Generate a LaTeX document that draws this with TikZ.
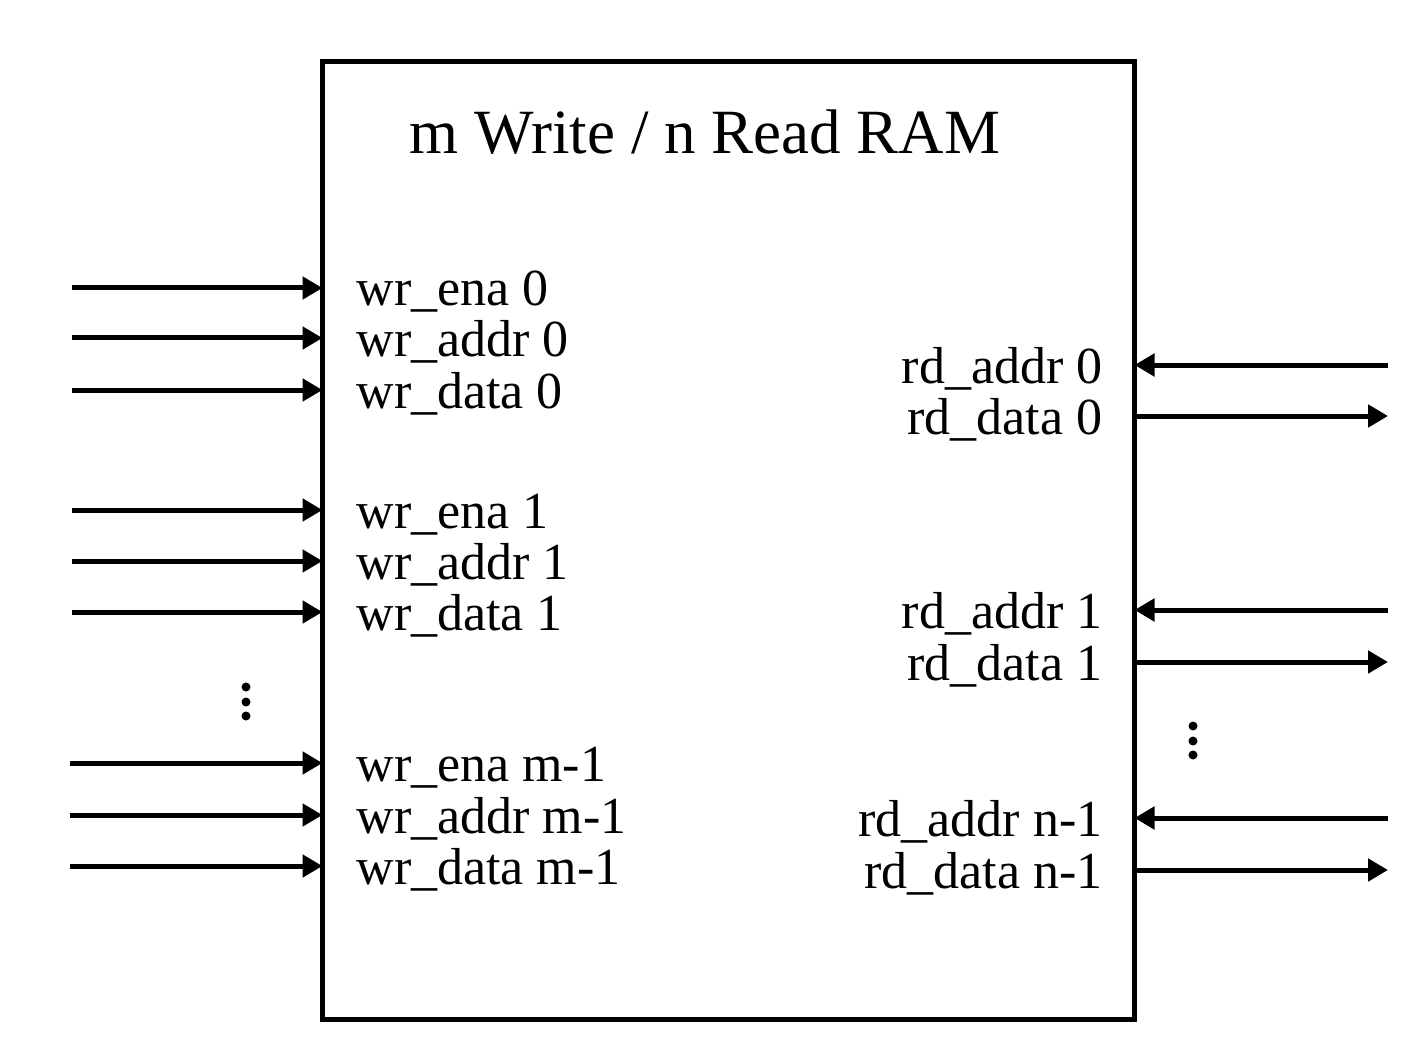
\documentclass[tikz,border=0pt]{standalone}
\usepackage{fontspec}
\setmainfont{Liberation Serif}
\usetikzlibrary{arrows.meta}
\begin{document}
\begin{tikzpicture}[x=1pt,y=-1pt,text=black,line width=5pt,
  >={Triangle[length=20pt,width=22pt]},
  wrlabel/.style={anchor=base west,inner sep=0pt,font=\fontsize{52}{56}\selectfont},
  rdlabel/.style={anchor=base east,inner sep=0pt,font=\fontsize{52}{56}\selectfont}]
\useasboundingbox (0,0) rectangle (1418,1064);

\node[draw,anchor=north west,minimum width=812pt,minimum height=958pt,inner sep=0pt,outer sep=0pt] (ram) at (322.5,61.5) {};
\node[anchor=base,inner sep=0pt,font=\fontsize{63}{66}\selectfont] (title) at (705,154) {m Write / n Read RAM};

% write ports
\foreach \y/\x/\txt [count=\i] in {288/72/wr\_ena 0, 338/72/wr\_addr 0, 390/72/wr\_data 0,
  510/72/wr\_ena 1, 561/72/wr\_addr 1, 612/72/wr\_data 1,
  763/70/wr\_ena m-1, 815/70/wr\_addr m-1, 866/70/wr\_data m-1}{
  \coordinate (wrin\i) at (\x,\y);
  \node[wrlabel] (wr\i) at (354,\y+18) {\txt};
  \draw[->] (wrin\i) -- (ram.west |- wrin\i);
}

% read ports
\foreach \y/\txt [count=\i] in {365/rd\_addr 0, 610/rd\_addr 1, 818/rd\_addr n-1}{
  \coordinate (rdaddr\i) at (1388,\y);
  \node[rdlabel] (rda\i) at (1105,\y+18) {\txt};
  \draw[->] (rdaddr\i) -- (ram.east |- rdaddr\i);
}
\foreach \y/\txt [count=\i] in {416/rd\_data 0, 662/rd\_data 1, 870/rd\_data n-1}{
  \coordinate (rddata\i) at (1388,\y);
  \node[rdlabel] (rdd\i) at (1105,\y+18) {\txt};
  \draw[->] (ram.east |- rddata\i) -- (rddata\i);
}

\fill (246,687) circle (4.5pt) (246,702) circle (4.5pt) (246,716) circle (4.5pt);
\fill (1193,726) circle (4.5pt) (1193,741) circle (4.5pt) (1193,755) circle (4.5pt);

\end{tikzpicture}
\end{document}
